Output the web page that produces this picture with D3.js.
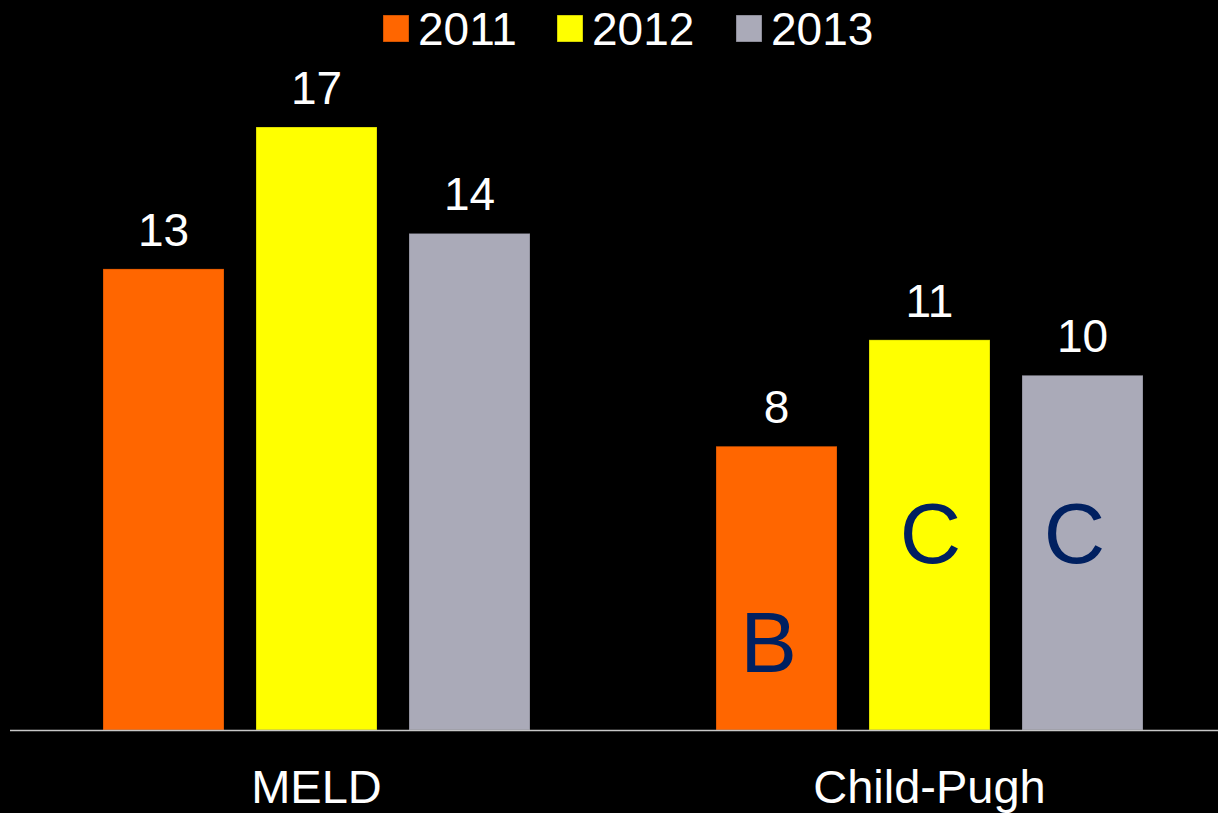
<!DOCTYPE html>
<html>
<head>
<meta charset="utf-8">
<script src="https://cdn.jsdelivr.net/npm/d3@7"></script>
<style>
  html, body { margin: 0; padding: 0; background: #000; }
  svg { display: block; }
  text { font-family: "Liberation Sans", Arial, sans-serif; }
</style>
</head>
<body>
<svg id="chart" width="1218" height="813"></svg>
<script>
// data
var categories = ['MELD', 'Child-Pugh'];
var years = ['2011', '2012', '2013'];
var meldValues = [13, 17, 14];
var childPughValues = [8, 11, 10];
var childPughGrades = ['B', 'C', 'C'];
var colors = ['#FF6600', '#FFFF00', '#AAAAB8'];

var rows = [
  {cat: 'MELD', values: meldValues, grades: [null, null, null]},
  {cat: 'Child-Pugh', values: childPughValues, grades: childPughGrades}
];

var svg = d3.select('#chart');
var width = 1218, height = 813;
var baseY = 730;
var groupW = 613;

svg.append('rect').attr('width', width).attr('height', height).attr('fill', '#000');

var x0 = d3.scaleBand().domain(categories).range([10, 10 + groupW * 2]).padding(0);
var x1 = d3.scaleBand().domain(years).range([93, groupW - 93]).paddingInner(32 / 153).paddingOuter(0);
var y = d3.scaleLinear().domain([0, 20]).range([baseY, baseY - 709.4]);
var color = d3.scaleOrdinal().domain(years).range(colors);

// hand placement of the grade letters inside the bars (layout only)
var gradeDx = [-8, 1, -8];
var gradeY = {B: 672, C: 563};

var groups = svg.selectAll('g.group')
  .data(rows)
  .enter()
  .append('g')
  .attr('class', 'group')
  .attr('transform', function(d){ return 'translate(' + x0(d.cat) + ',0)'; });

groups.each(function(d){
  var g = d3.select(this);
  var items = years.map(function(yr, i){ return {year: yr, value: d.values[i], grade: d.grades[i], i: i}; });

  g.selectAll('rect.bar')
    .data(items)
    .enter()
    .append('rect')
    .attr('class', 'bar')
    .attr('x', function(e){ return x1(e.year); })
    .attr('y', function(e){ return y(e.value); })
    .attr('width', x1.bandwidth())
    .attr('height', function(e){ return baseY - y(e.value); })
    .style('fill', function(e){ return color(e.year); })
    .style('stroke', 'rgba(0,0,0,0.25)')
    .style('stroke-width', 1);

  g.selectAll('text.val')
    .data(items)
    .enter()
    .append('text')
    .attr('class', 'val')
    .text(function(e){ return e.value; })
    .attr('x', function(e){ return x1(e.year) + x1.bandwidth() / 2; })
    .attr('y', function(e){ return y(e.value) - 23; })
    .style('fill', '#ffffff')
    .style('font-size', '46px')
    .style('text-anchor', 'middle');

  g.selectAll('text.grade')
    .data(items.filter(function(e){ return e.grade; }))
    .enter()
    .append('text')
    .attr('class', 'grade')
    .text(function(e){ return e.grade; })
    .attr('x', function(e){ return x1(e.year) + x1.bandwidth() / 2 + gradeDx[e.i]; })
    .attr('y', function(e){ return gradeY[e.grade]; })
    .style('fill', '#002060')
    .style('font-size', '85px')
    .style('text-anchor', 'middle');
});

// axis line
svg.append('line')
  .attr('x1', 10).attr('x2', width)
  .attr('y1', baseY + 0.5).attr('y2', baseY + 0.5)
  .style('stroke', '#C8C8C8')
  .style('stroke-width', 1.5);

// category labels
svg.selectAll('text.cat')
  .data(categories)
  .enter()
  .append('text')
  .attr('class', 'cat')
  .text(function(d){ return d; })
  .attr('x', function(d){ return x0(d) + 93 + (groupW - 186) / 2; })
  .attr('y', 803)
  .style('fill', '#ffffff')
  .style('font-size', '47px')
  .style('text-anchor', 'middle');

// legend
var legendX = [383, 557, 736];
var legend = svg.append('g').attr('class', 'legend');
var li = legend.selectAll('g')
  .data(years)
  .enter()
  .append('g')
  .attr('transform', function(d, i){ return 'translate(' + legendX[i] + ',0)'; });
li.append('rect')
  .attr('x', 0).attr('y', 15)
  .attr('width', 26).attr('height', 27)
  .style('fill', function(d){ return color(d); })
  .style('stroke', 'rgba(0,0,0,0.35)')
  .style('stroke-width', 1);
li.append('text')
  .text(function(d){ return d; })
  .attr('x', 35)
  .attr('y', 45)
  .style('fill', '#ffffff')
  .style('font-size', '46px');
</script>
</body>
</html>
